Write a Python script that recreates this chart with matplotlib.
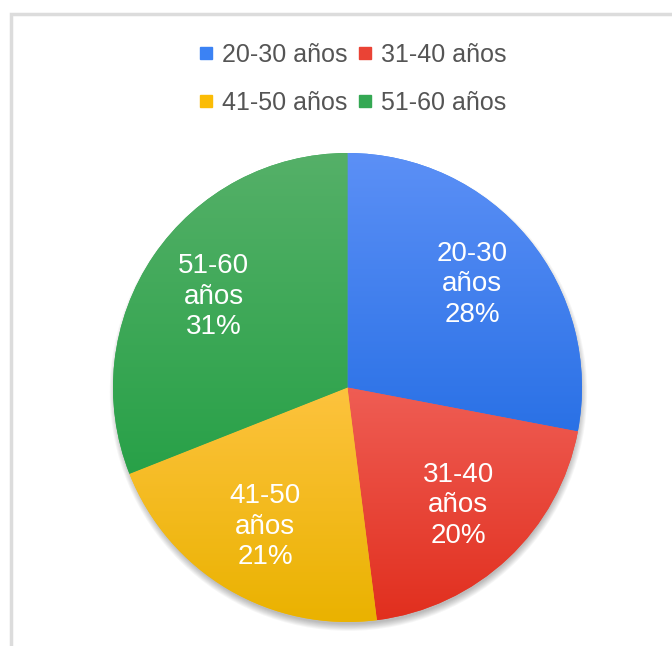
import matplotlib.pyplot as plt
import numpy as np
from matplotlib.colors import to_rgb
from matplotlib.lines import Line2D
from matplotlib.patches import Circle, Rectangle

plt.rcParams['font.family'] = ['Liberation Sans', 'DejaVu Sans']

categories = ['20-30 años', '31-40 años', '41-50 años', '51-60 años']
shares = [28, 20, 21, 31]
# lighter top / darker bottom shade for each slice
top_colors = ['#5c90f6', '#ef5d54', '#fdc33e', '#55b068']
bottom_colors = ['#2a71e6', '#e12f1e', '#eab200', '#28a148']
base_colors = ['#3b82f4', '#ea4335', '#fbbc05', '#34a853']

W, H = 672, 646
fig = plt.figure(figsize=(W / 100, H / 100), dpi=100)
fig.patch.set_facecolor('white')

# light grey card frame (right and bottom run off the canvas)
fig.add_artist(Rectangle((11 / W, -0.05), 1.2, 1.05 - 14 / H,
                         transform=fig.transFigure, fill=False,
                         edgecolor='#dcdcdc', linewidth=2.5))

# pie axes: radius 1 maps to ~234 px, centred at (347, 387) from top-left
R_PX, CX, CY = 234.5, 347.5, 387.5
half = 1.1 * R_PX
ax = fig.add_axes([(CX - half) / W, (H - CY - half) / H, 2 * half / W, 2 * half / H])

# soft drop shadow, mostly below the pie
for k in range(8):
    ax.add_patch(Circle((0.004, -0.02), 0.99 + k * 0.004, facecolor='black',
                        edgecolor='none', alpha=0.035, zorder=0))

labels = [f"{c.replace(' ', chr(10))}\n{v}%" for c, v in zip(categories, shares)]
wedges, texts = ax.pie(shares, labels=labels, colors=base_colors, startangle=90,
                       counterclock=False, labeldistance=0.69, radius=1.0,
                       wedgeprops=dict(linewidth=0),
                       textprops=dict(color='white', fontsize=20, linespacing=1.22))
for t in texts:
    t.set_ha('center')
    t.set_va('center')
    t.set_zorder(5)

# vertical gradient fill, clipped to each slice
for w, c_top, c_bot in zip(wedges, top_colors, bottom_colors):
    ext = w.get_path().get_extents()
    t = np.linspace(0, 1, 256)[:, None, None]
    grad = (1 - t) * np.array(to_rgb(c_top)) + t * np.array(to_rgb(c_bot))
    im = ax.imshow(grad, extent=[ext.x0, ext.x1, ext.y0, ext.y1], origin='upper',
                   aspect='auto', interpolation='bicubic', zorder=2)
    im.set_clip_path(w)
    w.set_zorder(1)

ax.set_xlim(-1.1, 1.1)
ax.set_ylim(-1.1, 1.1)
ax.set_aspect('equal')
ax.axis('off')

# legend reads row by row: two entries per row
order = [0, 2, 1, 3]
handles = [Line2D([], [], marker='s', linestyle='none', markersize=8.5,
                  markerfacecolor=c, markeredgecolor=c) for c in base_colors]
fig.legend([handles[i] for i in order], [categories[i] for i in order],
           loc='center', ncol=2, bbox_to_anchor=(352 / W, 1 - 79 / H),
           frameon=False, fontsize=18, labelcolor='#555555', handlelength=0.65,
           handletextpad=0.3, columnspacing=0.4, labelspacing=0.95,
           borderpad=0)

fig.savefig('out.png', dpi=100, facecolor='white')
